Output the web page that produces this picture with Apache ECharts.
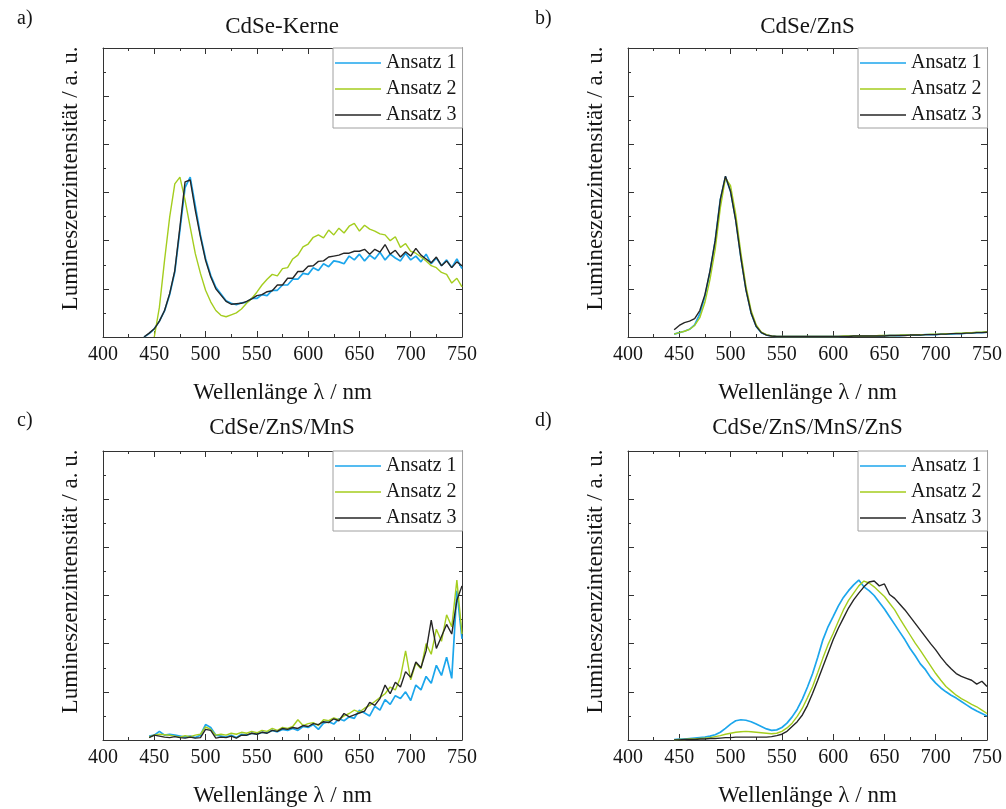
<!DOCTYPE html>
<html><head><meta charset="utf-8">
<script src="https://cdn.jsdelivr.net/npm/echarts/dist/echarts.min.js"></script>
<style>html,body{margin:0;padding:0;background:#fff}#c{width:1006px;height:809px}</style>
</head><body><div id="c"></div><script>
// ---- data ----
const wavelengths = [
  440,445,450,455,460,465,470,475,480,485,
  490,495,500,505,510,515,520,525,530,535,
  540,545,550,555,560,565,570,575,580,585,
  590,595,600,605,610,615,620,625,630,635,
  640,645,650,655,660,665,670,675,680,685,
  690,695,700,705,710,715,720,725,730,735,
  740,745,750];
const xTicks = [400,450,500,550,600,650,700,750];
const seriesNames = ['Ansatz 1','Ansatz 2','Ansatz 3'];
const panelTitles = ['CdSe-Kerne','CdSe/ZnS','CdSe/ZnS/MnS','CdSe/ZnS/MnS/ZnS'];
const panelLabels = ['a)','b)','c)','d)'];

// a) CdSe-Kerne
const a_ansatz1 = [
  0,0.07,0.17,0.33,0.54,0.88,1.35,2.22,3.1,3.32,
  2.72,2.12,1.63,1.28,1.03,0.89,0.75,0.7,0.67,0.71,
  0.72,0.8,0.8,0.88,0.86,0.97,0.97,1.08,1.08,1.2,
  1.2,1.32,1.3,1.44,1.38,1.52,1.46,1.58,1.56,1.52,
  1.68,1.6,1.72,1.58,1.7,1.62,1.76,1.6,1.72,1.64,
  1.58,1.74,1.6,1.68,1.56,1.72,1.52,1.64,1.48,1.6,
  1.44,1.62,1.42];
const a_ansatz2 = [
  null,null,0,0.62,1.59,2.49,3.18,3.32,2.84,2.28,
  1.73,1.32,0.97,0.73,0.55,0.45,0.42,0.46,0.5,0.58,
  0.7,0.8,0.93,1.08,1.2,1.3,1.27,1.42,1.44,1.62,
  1.7,1.87,1.93,2.07,2.12,2.06,2.22,2.12,2.26,2.16,
  2.3,2.36,2.2,2.32,2.24,2.2,2.14,2.12,2.0,2.08,
  1.86,1.94,1.78,1.74,1.66,1.58,1.48,1.44,1.34,1.3,
  1.12,1.22,1.04];
const a_ansatz3 = [
  0,0.08,0.17,0.33,0.55,0.9,1.38,2.28,3.22,3.26,
  2.63,2.08,1.59,1.25,1.0,0.87,0.74,0.68,0.69,0.7,
  0.74,0.79,0.86,0.88,0.94,0.96,1.08,1.08,1.22,1.22,
  1.36,1.36,1.47,1.48,1.57,1.58,1.66,1.68,1.7,1.74,
  1.74,1.78,1.78,1.82,1.72,1.82,1.76,1.92,1.72,1.8,
  1.66,1.77,1.68,1.84,1.7,1.62,1.54,1.66,1.48,1.58,
  1.44,1.56,1.48];

// b) CdSe/ZnS
const b_ansatz1 = [
  null,0.06,0.09,0.12,0.16,0.25,0.48,0.84,1.36,2.0,
  2.85,3.33,3.02,2.44,1.66,0.99,0.5,0.22,0.09,0.04,
  0.02,0.01,0.01,0.01,0.01,0.01,0.01,0.01,0.01,0.01,
  0.01,0.01,0.01,0.01,0.01,0.02,0.02,0.02,0.02,0.02,
  0.02,0.02,0.03,0.03,0.03,0.03,0.04,0.04,0.04,0.04,
  0.05,0.05,0.05,0.06,0.06,0.06,0.07,0.07,0.08,0.08,
  0.09,0.09,0.1];
const b_ansatz2 = [
  null,0.06,0.09,0.12,0.16,0.24,0.4,0.72,1.2,1.82,
  2.68,3.3,3.14,2.55,1.75,1.05,0.55,0.25,0.1,0.05,
  0.02,0.01,0.01,0.01,0.01,0.01,0.01,0.01,0.01,0.01,
  0.01,0.01,0.01,0.01,0.02,0.02,0.02,0.02,0.02,0.02,
  0.02,0.03,0.03,0.03,0.03,0.04,0.04,0.04,0.05,0.05,
  0.05,0.06,0.06,0.06,0.07,0.07,0.08,0.08,0.09,0.09,
  0.1,0.1,0.11];
const b_ansatz3 = [
  null,0.15,0.24,0.3,0.33,0.38,0.55,0.88,1.38,2.0,
  2.85,3.34,3.02,2.42,1.65,0.98,0.5,0.22,0.09,0.04,
  0.02,0.01,0.01,0.01,0.01,0.01,0.01,0.01,0.01,0.01,
  0.01,0.01,0.01,0.01,0.01,0.01,0.02,0.02,0.02,0.02,
  0.02,0.02,0.02,0.03,0.03,0.03,0.03,0.04,0.04,0.04,
  0.05,0.05,0.05,0.06,0.06,0.07,0.07,0.07,0.08,0.08,
  0.09,0.09,0.1];

// c) CdSe/ZnS/MnS
const c_ansatz1 = [
  null,0.08,0.1,0.18,0.1,0.12,0.1,0.08,0.06,0.08,
  0.05,0.1,0.32,0.26,0.1,0.08,0.06,0.1,0.05,0.12,
  0.1,0.14,0.12,0.16,0.15,0.2,0.17,0.22,0.2,0.24,
  0.2,0.28,0.26,0.32,0.22,0.35,0.38,0.33,0.44,0.4,
  0.48,0.45,0.62,0.56,0.5,0.7,0.62,0.84,0.74,0.92,
  0.86,1.0,0.82,1.14,1.04,1.32,1.18,1.55,1.34,1.72,
  1.28,3.1,2.1];
const c_ansatz2 = [
  null,0.06,0.1,0.12,0.11,0.1,0.08,0.06,0.09,0.07,
  0.1,0.12,0.27,0.22,0.1,0.12,0.1,0.14,0.12,0.16,
  0.14,0.18,0.15,0.2,0.18,0.24,0.2,0.26,0.24,0.28,
  0.42,0.3,0.34,0.36,0.3,0.42,0.4,0.46,0.42,0.5,
  0.55,0.62,0.58,0.66,0.72,0.8,0.88,0.96,1.1,1.04,
  1.3,1.85,1.25,1.6,1.48,2.0,1.78,2.3,2.05,2.6,
  2.35,3.32,2.2];
const c_ansatz3 = [
  null,0.05,0.1,0.08,0.06,0.05,0.07,0.05,0.04,0.06,
  0.04,0.05,0.22,0.2,0.04,0.06,0.05,0.08,0.04,0.1,
  0.1,0.14,0.12,0.16,0.14,0.2,0.18,0.24,0.22,0.26,
  0.24,0.3,0.28,0.34,0.32,0.38,0.36,0.44,0.4,0.55,
  0.48,0.52,0.56,0.6,0.78,0.72,0.86,1.14,0.96,1.2,
  1.1,1.42,1.3,1.62,1.5,1.85,2.49,1.9,2.15,2.4,
  2.2,2.9,3.2];

// d) CdSe/ZnS/MnS/ZnS
const d_ansatz1 = [
  null,0.01,0.02,0.02,0.03,0.04,0.05,0.06,0.08,0.11,
  0.16,0.24,0.33,0.4,0.42,0.41,0.38,0.33,0.28,0.23,
  0.2,0.21,0.26,0.35,0.48,0.64,0.85,1.1,1.38,1.72,
  2.08,2.35,2.56,2.78,2.96,3.1,3.22,3.32,3.18,3.1,
  3.0,2.86,2.72,2.56,2.4,2.24,2.08,1.9,1.75,1.58,
  1.46,1.3,1.18,1.08,1.0,0.93,0.87,0.8,0.73,0.66,
  0.6,0.55,0.5];
const d_ansatz2 = [
  null,0,0.01,0.01,0.02,0.02,0.03,0.04,0.05,0.07,
  0.09,0.12,0.14,0.16,0.17,0.18,0.17,0.16,0.15,0.14,
  0.13,0.14,0.18,0.25,0.35,0.49,0.66,0.88,1.11,1.4,
  1.7,1.98,2.21,2.46,2.7,2.9,3.05,3.2,3.3,3.26,
  3.18,3.08,2.98,2.84,2.7,2.52,2.35,2.18,2.01,1.86,
  1.7,1.54,1.38,1.24,1.11,1.02,0.93,0.86,0.8,0.74,
  0.69,0.62,0.55];
const d_ansatz3 = [
  null,0,0,0.01,0.01,0.01,0.02,0.02,0.03,0.03,
  0.04,0.05,0.05,0.06,0.06,0.06,0.06,0.06,0.06,0.06,
  0.07,0.09,0.12,0.18,0.28,0.38,0.52,0.72,0.97,1.24,
  1.52,1.8,2.08,2.32,2.53,2.74,2.91,3.05,3.18,3.28,
  3.3,3.2,3.24,3.02,2.94,2.82,2.7,2.56,2.42,2.28,
  2.14,2.0,1.87,1.72,1.59,1.48,1.38,1.32,1.28,1.24,
  1.16,1.22,1.11];

// ---- layout & style ----
const panelData = [
  [a_ansatz1,a_ansatz2,a_ansatz3],
  [b_ansatz1,b_ansatz2,b_ansatz3],
  [c_ansatz1,c_ansatz2,c_ansatz3],
  [d_ansatz1,d_ansatz2,d_ansatz3]];
const colors = ['#1ca6ec','#a4cd1e','#262626'];
const FONT = '"Liberation Serif", "Times New Roman", serif';
const TXT = '#151515';
const AX = '#333333';
const grids = [
  {left:103, top:48, width:359, height:289},
  {left:628, top:48, width:359, height:289},
  {left:103, top:451, width:359, height:289},
  {left:628, top:451, width:359, height:289}];
const titlePos = [[282,15.5],[807.5,15.5],[282,416.5],[807.5,416.5]];
const labelPos = [[17,9],[535,9],[17,411],[535,411]];

const xAxes = [], yAxes = [], series = [], legends = [], titles = [];
function tickCfg(){return {inside:true,length:6,lineStyle:{color:AX,width:1}};}
function minorCfg(){return {show:true,splitNumber:2,length:3,lineStyle:{color:AX,width:1}};}
grids.forEach((g,i)=>{
  xAxes.push({gridIndex:i,type:'value',min:xTicks[0],max:xTicks[xTicks.length-1],interval:50,position:'bottom',
    axisLine:{onZero:false,lineStyle:{color:AX,width:1}},axisTick:tickCfg(),minorTick:minorCfg(),
    splitLine:{show:false},
    axisLabel:{fontFamily:FONT,fontSize:20,color:TXT,margin:8,hideOverlap:false},
    name:'Wellenlänge λ / nm',nameLocation:'middle',nameGap:44,
    nameTextStyle:{fontFamily:FONT,fontSize:23,color:TXT}});
  yAxes.push({gridIndex:i,type:'value',min:0,max:6,interval:1,position:'left',
    axisLine:{show:true,onZero:false,lineStyle:{color:AX,width:1}},axisTick:tickCfg(),minorTick:minorCfg(),
    splitLine:{show:false},axisLabel:{show:false},
    name:'Lumineszenzintensität / a. u.',nameLocation:'middle',nameRotate:90,nameGap:21,
    nameTextStyle:{fontFamily:FONT,fontSize:23,color:TXT,padding:[0,0,0,28]}});
});
grids.forEach((g,i)=>{
  xAxes.push({gridIndex:i,type:'value',min:xTicks[0],max:xTicks[xTicks.length-1],interval:50,position:'top',
    axisLine:{onZero:false,lineStyle:{color:AX,width:1}},axisTick:tickCfg(),minorTick:minorCfg(),
    splitLine:{show:false},axisLabel:{show:false}});
  yAxes.push({gridIndex:i,type:'value',min:0,max:6,interval:1,position:'right',
    axisLine:{show:true,onZero:false,lineStyle:{color:AX,width:1}},axisTick:tickCfg(),minorTick:minorCfg(),
    splitLine:{show:false},axisLabel:{show:false}});
});
panelData.forEach((sets,i)=>{
  sets.forEach((vals,k)=>{
    series.push({type:'line',name:seriesNames[k],xAxisIndex:i,yAxisIndex:i,
      data:wavelengths.map((w,j)=>vals[j]==null?null:[w,vals[j]]).filter(p=>p),
      symbol:'none',showSymbol:false,animation:false,
      lineStyle:{color:colors[k],width:k===0?1.7:1.4},itemStyle:{color:colors[k]},
      z:k===0?2:(k===1?3:4)});
  });
  const g = grids[i];
  legends.push({orient:'vertical',left:g.left+g.width-129,top:g.top,
    icon:'rect',itemWidth:46,itemHeight:1.6,itemGap:6,padding:[5,6,3,2],
    backgroundColor:'#fff',borderColor:'#a0a0a0',borderWidth:1,
    textStyle:{fontFamily:FONT,fontSize:20,color:TXT,lineHeight:20},
    data:seriesNames.slice()});
  titles.push({text:panelTitles[i],left:titlePos[i][0],top:titlePos[i][1],textAlign:'center',padding:0,
    textStyle:{fontFamily:FONT,fontSize:23,fontWeight:'normal',color:TXT}});
  titles.push({text:panelLabels[i],left:labelPos[i][0],top:labelPos[i][1],textAlign:'left',padding:0,
    textStyle:{fontFamily:FONT,fontSize:20,fontWeight:'normal',color:TXT}});
});

const chart = echarts.init(document.getElementById('c'),null,{renderer:'canvas'});
chart.setOption({
  animation:false,backgroundColor:'#fff',
  title:titles,
  grid:grids.map(g=>Object.assign({containLabel:false},g)),
  xAxis:xAxes,yAxis:yAxes,series:series,legend:legends
});
// make sure every generated x tick label stays visible
const zr = chart.getZr();
zr.storage.getRoots().forEach(r=>{ if(r.traverse) r.traverse(el=>{
  if(el.type==='text' && el.style && xTicks.map(String).indexOf(String(el.style.text))>=0){
    el.ignore=false; el.invisible=false; el.style.opacity=1; el.markRedraw&&el.markRedraw();
  }
});});
zr.refreshImmediately();
</script></body></html>
